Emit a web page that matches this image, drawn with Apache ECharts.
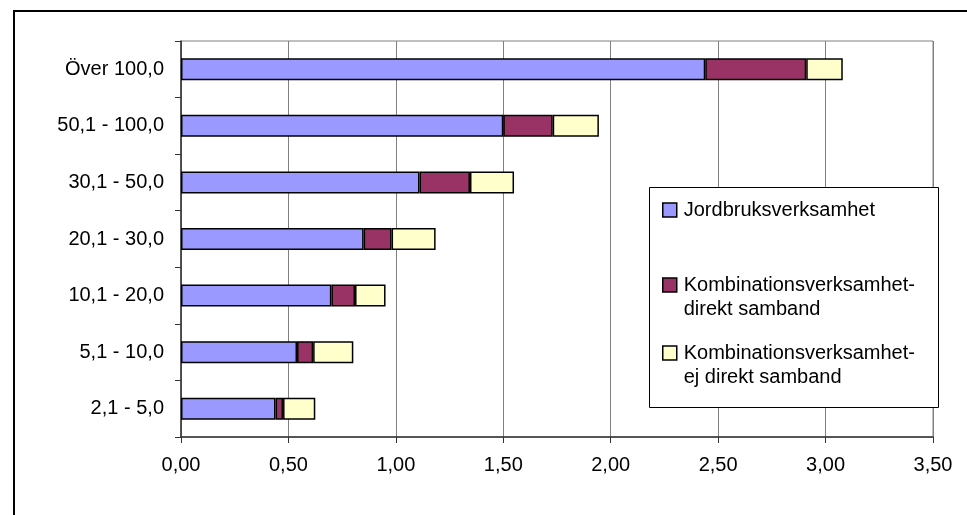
<!DOCTYPE html>
<html>
<head>
<meta charset="utf-8">
<script src="https://cdn.jsdelivr.net/npm/echarts@6/dist/echarts.min.js"></script>
<style>
html,body{margin:0;padding:0;background:#fff;}
#chart{width:967px;height:515px;}
</style>
</head>
<body>
<div id="chart"></div>
<script>
// Categories listed bottom to top
var categories = ['2,1 - 5,0', '5,1 - 10,0', '10,1 - 20,0', '20,1 - 30,0', '30,1 - 50,0', '50,1 - 100,0', 'Över 100,0'];
var seriesNames = ['Jordbruksverksamhet', 'Kombinationsverksamhet-\ndirekt samband', 'Kombinationsverksamhet-\nej direkt samband'];
var jordbruk = [0.44, 0.54, 0.70, 0.85, 1.11, 1.50, 2.44];
var direkt = [0.035, 0.075, 0.11, 0.13, 0.235, 0.23, 0.47];
var ejDirekt = [0.15, 0.187, 0.142, 0.205, 0.205, 0.215, 0.17];
var xTicks = [0, 0.5, 1, 1.5, 2, 2.5, 3, 3.5];

var FONT = '"Liberation Sans", Arial, sans-serif';
var FS = 20;
var colors = ['#9999FF', '#993366', '#FFFFCC'];
var values = [jordbruk, direkt, ejDirekt];

var chart = echarts.init(document.getElementById('chart'), null, {renderer: 'canvas'});

var series = seriesNames.map(function (n, i) {
  return {
    name: n,
    type: 'bar',
    stack: 'total',
    barWidth: 22,
    data: values[i],
    itemStyle: {color: colors[i], borderColor: '#000', borderWidth: 1.5},
    emphasis: {disabled: true}
  };
});

var LH = 24;
function legendAt(name, iconTop, twoLine) {
  return {
    show: true,
    data: [{name: name, icon: 'rect'}],
    left: 662,
    top: twoLine ? iconTop - (1.5 * LH - 7) : iconTop - (LH / 2 - 7),
    orient: 'vertical',
    padding: 0,
    itemWidth: 14,
    itemHeight: 14,
    itemGap: 0,
    selectedMode: false,
    formatter: function (n) { return twoLine ? '\n' + n : n; },
    itemStyle: {borderColor: '#000', borderWidth: 1.5},
    textStyle: {fontFamily: FONT, fontSize: FS, color: '#000', lineHeight: LH, padding: [0, 0, 0, 2]}
  };
}

var option = {
  animation: false,
  backgroundColor: '#fff',
  color: colors,
  grid: {left: 181, top: 41, right: 34, bottom: 78, show: true, borderColor: '#808080', borderWidth: 1, containLabel: false},
  xAxis: {
    type: 'value',
    min: xTicks[0],
    max: xTicks[xTicks.length - 1],
    interval: 0.5,
    axisLine: {show: true, lineStyle: {color: '#333', width: 1.5}},
    axisTick: {show: true, length: 6, lineStyle: {color: '#333', width: 1}},
    splitLine: {show: true, lineStyle: {color: '#808080', width: 1}},
    axisLabel: {
      margin: 18, color: '#000', fontFamily: FONT, fontSize: FS,
      formatter: function (v) { return v.toFixed(2).replace('.', ','); }
    }
  },
  yAxis: {
    type: 'category',
    data: categories,
    axisLine: {show: true, lineStyle: {color: '#333', width: 1.5}},
    axisTick: {show: true, length: 6, lineStyle: {color: '#333', width: 1}},
    splitLine: {show: false},
    axisLabel: {margin: 17, color: '#000', fontFamily: FONT, fontSize: FS}
  },
  legend: [
    legendAt(seriesNames[0], 203, false),
    legendAt(seriesNames[1], 278, true),
    legendAt(seriesNames[2], 346, true)
  ],
  graphic: [
    {type: 'rect', z: 3, shape: {x: 649.5, y: 187.5, width: 289, height: 220}, style: {fill: '#fff', stroke: '#000', lineWidth: 1}},
    {type: 'rect', z: 10, shape: {x: 14, y: 11, width: 1000, height: 600}, style: {fill: 'none', stroke: '#000', lineWidth: 2}}
  ],
  series: series
};
chart.setOption(option);
</script>
</body>
</html>
